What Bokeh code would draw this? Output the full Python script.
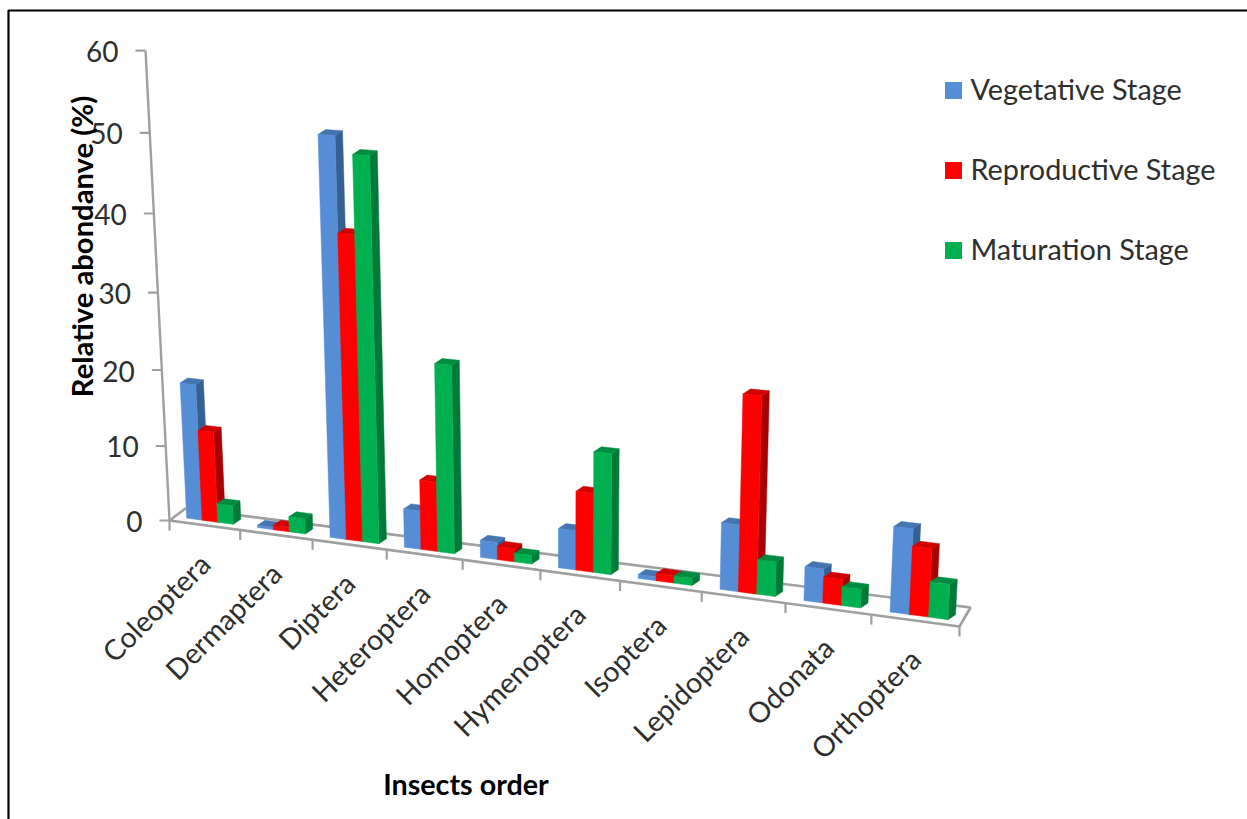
from bokeh.core.properties import value
from bokeh.embed import file_html
from bokeh.plotting import figure
from bokeh.resources import INLINE

# Relative abundance (%) of insect orders across three crop stages
orders = ["Coleoptera", "Dermaptera", "Diptera", "Heteroptera", "Homoptera",
          "Hymenoptera", "Isoptera", "Lepidoptera", "Odonata", "Orthoptera"]
vegetative = [18.0, 0.3, 50.8, 5.0, 2.2, 5.0, 0.5, 8.3, 4.2, 10.4]
reproductive = [12.0, 0.6, 39.0, 9.0, 1.7, 10.0, 0.9, 24.2, 3.2, 8.3]
maturation = [2.5, 2.0, 48.7, 24.0, 1.1, 15.2, 0.9, 4.3, 2.3, 4.3]
series_names = ["Vegetative Stage", "Reproductive Stage", "Maturation Stage"]
y_ticks = [0, 10, 20, 30, 40, 50, 60]

# Colours per series: front, side and top faces of a column
FACES = [("#558ED5", "#376092", "#4475B0"),
         ("#FF0000", "#A80000", "#D20000"),
         ("#00B050", "#007A38", "#008C40")]
AXIS_COLOR = "#A0A0A0"
TEXT_COLOR = "#2E2E2E"
FONT = value("Lato")

W, H = 1247, 819

# Perspective camera: u runs along the categories, d into the depth, v is the value
X0, Y0 = 169.0, 520.0
AX, AY = 67.97, 3.40
DX, DY = 17.48, -7.94
VX, VY = -0.539, -7.88
CU, CD, CV = -0.0115, 0.008, -0.000964


def project(u, d, v):
    w = 1 + CU * u + CD * d + CV * v
    return (X0 + AX * u + DX * d + VX * v) / w, (Y0 + AY * u + DY * d + VY * v) / w


BAR_WIDTH = 0.22
BAR_D = 0.33
SIDE_DX, SIDE_DY = 7.5, -5.0

p = figure(width=W, height=H, x_range=(0, W), y_range=(H, 0), toolbar_location=None,
           output_backend="svg", min_border=0, background_fill_color="white",
           border_fill_color="white", outline_line_color=None)
p.xaxis.visible = False
p.yaxis.visible = False
p.grid.visible = False

# Outer frame: left and top edges only
p.line([8, 8, W], [H, 10, 10], line_color="black", line_width=2.2)

# Floor outline and the value axis
fx0, fy0 = project(0, 0, 0)
fx1, fy1 = project(10, 0, 0)
bx0, by0 = project(0, 1, 0)
BACK_RIGHT = (970, 607)
p.line([fx0, fx1, BACK_RIGHT[0], bx0, fx0], [fy0, fy1, BACK_RIGHT[1], by0, fy0],
       line_color=AXIS_COLOR, line_width=2.6)
top = project(0, 0, y_ticks[-1])
p.line([fx0, top[0]], [fy0, top[1]], line_color=AXIS_COLOR, line_width=2.4)

for t in y_ticks:
    x, y = project(0, 0, t)
    p.line([x - 10, x], [y, y], line_color=AXIS_COLOR, line_width=2.2)
    p.text([x - 27], [y + 1], text=[str(t)], text_align="right", text_baseline="middle",
           text_font=FONT, text_font_size="28px", text_color=TEXT_COLOR)

for u in range(len(orders) + 1):
    x, y = project(u, 0, 0)
    p.line([x, x], [y, y + 10], line_color=AXIS_COLOR, line_width=2.2)

# Columns, drawn left to right so each hides the side of its neighbour
series = [vegetative, reproductive, maturation]
for i, name in enumerate(orders):
    for k, vals in enumerate(series):
        u0 = i + 0.5 + (k - 1.5) * BAR_WIDTH
        u1 = u0 + BAR_WIDTH
        v = vals[i]
        a = project(u0, BAR_D, 0)
        b = project(u1, BAR_D, 0)
        c = project(u1, BAR_D, v)
        d = project(u0, BAR_D, v)
        front, side, cap = FACES[k]
        p.patch([b[0], b[0] + SIDE_DX, c[0] + SIDE_DX, c[0]],
                [b[1], b[1] + SIDE_DY, c[1] + SIDE_DY, c[1]], fill_color=side, line_color=side, line_width=0.5)
        p.patch([d[0], c[0], c[0] + SIDE_DX, d[0] + SIDE_DX],
                [d[1], c[1], c[1] + SIDE_DY, d[1] + SIDE_DY], fill_color=cap, line_color=cap, line_width=0.5)
        p.patch([a[0], b[0], c[0], d[0]], [a[1], b[1], c[1], d[1]],
                fill_color=front, line_color=front, line_width=0.5)

# Category names, rotated and hanging from the floor's front edge
for i, name in enumerate(orders):
    x, y = project(i + 0.5, 0, 0)
    p.text([x], [y + 33.5], text=[name], angle=0.785, text_align="right", text_baseline="middle",
           text_font=FONT, text_font_size="28.5px", text_color=TEXT_COLOR)

# Legend
for k, name in enumerate(series_names):
    ly = 90 + 80 * k
    p.scatter([953], [ly], marker="square", size=17, fill_color=FACES[k][0], line_color=None)
    p.text([970], [ly - 1.5], text=[name], text_baseline="middle", text_font=FONT,
           text_font_size="28.8px", text_color=TEXT_COLOR)

# Axis titles
p.text([81], [246], text=["Relative abondanve (%)"], angle=1.5708, text_align="center",
       text_baseline="middle", text_font=FONT, text_font_size="29.2px", text_font_style="bold",
       text_color="black")
p.text([465.5], [783.5], text=["Insects order"], text_align="center", text_baseline="middle",
       text_font=FONT, text_font_size="28.7px", text_font_style="bold", text_color="black")

open("out.html", "w").write(file_html(p, INLINE))
